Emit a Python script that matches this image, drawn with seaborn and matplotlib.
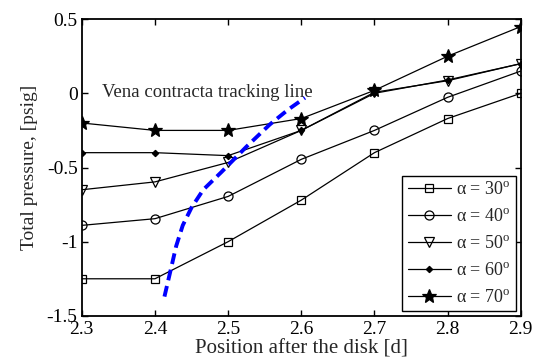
import numpy as np
import pandas as pd
import matplotlib
matplotlib.use('Agg')
import matplotlib.pyplot as plt
import seaborn as sns

###############################################################################
# Data
###############################################################################
POS = [2.3, 2.4, 2.5, 2.6, 2.7, 2.8, 2.9]
ALPHAS = [30, 40, 50, 60, 70]
P30 = [-1.25, -1.25, -1.00, -0.72, -0.40, -0.17, 0.00]
P40 = [-0.89, -0.845, -0.695, -0.445, -0.25, -0.027, 0.15]
P50 = [-0.65, -0.597, -0.466, -0.25, 0.007, 0.085, 0.20]
P60 = [-0.40, -0.40, -0.42, -0.25, 0.00, 0.09, 0.20]
P70 = [-0.20, -0.25, -0.25, -0.17, 0.02, 0.25, 0.45]
VC_X = [2.413, 2.422, 2.429, 2.438, 2.450, 2.466, 2.491, 2.525, 2.557, 2.582, 2.605]
VC_Y = [-1.37, -1.18, -1.03, -0.89, -0.77, -0.65, -0.53, -0.36, -0.21, -0.11, -0.03]
XTICKS = [2.3, 2.4, 2.5, 2.6, 2.7, 2.8, 2.9]
YTICKS = [-1.5, -1, -0.5, 0, 0.5]
YTICKLABELS = ['-1.5', '-1', '-0.5', '0', '0.5']

df = pd.DataFrame({
    'pos': POS * len(ALPHAS),
    'p': P30 + P40 + P50 + P60 + P70,
    'alpha': np.repeat(ALPHAS, len(POS)),
})
vc = pd.DataFrame({'x': VC_X, 'y': VC_Y})

###############################################################################
# Style
###############################################################################
sns.set_style('ticks', {'xtick.direction': 'in', 'ytick.direction': 'in'})
plt.rcParams['font.family'] = ['Liberation Serif', 'DejaVu Serif']
plt.rcParams['mathtext.fontset'] = 'custom'
plt.rcParams['mathtext.rm'] = 'Liberation Serif'
plt.rcParams['mathtext.it'] = 'Liberation Serif:italic'

mStyle = {
    30: dict(marker='s', ms=6, mfc='none'),
    40: dict(marker='o', ms=6.5, mfc='none'),
    50: dict(marker='v', ms=7, mfc='none'),
    60: dict(marker='D', ms=3.2, mfc='k'),
    70: dict(marker='*', ms=10, mfc='k'),
}

###############################################################################
# Plot
###############################################################################
fig, ax = plt.subplots(figsize=(5.38, 3.61), dpi=100)
fig.subplots_adjust(left=0.152, right=0.968, top=0.947, bottom=0.125)

for a in ALPHAS:
    sub = df[df['alpha'] == a]
    sns.lineplot(
        data=sub, x='pos', y='p', ax=ax, color='k', lw=0.9,
        mec='k', mew=0.9, label='α = {}$^{{\\rm o}}$'.format(a),
        **mStyle[a]
    )
sns.lineplot(
    data=vc, x='x', y='y', ax=ax, color='#0000ff', lw=2.8,
    dashes=False, sort=False
)
ax.lines[-1].set_dashes((2.8, 1.5))

ax.text(2.328, -0.027, 'Vena contracta tracking line', fontsize=13.5, va='baseline')

ax.set_xlim(2.3, 2.9)
ax.set_ylim(-1.5, 0.5)
ax.set_xticks(XTICKS)
ax.set_xticklabels([str(x) for x in XTICKS])
ax.set_yticks(YTICKS)
ax.set_yticklabels(YTICKLABELS)
ax.tick_params(axis='both', which='both', direction='in', top=True, right=True,
               length=4, width=1, labelsize=14, colors='k')
ax.tick_params(axis='x', pad=4)
ax.tick_params(axis='y', pad=3)
for s in ax.spines.values():
    s.set_visible(True)
    s.set_linewidth(1.3)
    s.set_color('k')

ax.set_xlabel('Position after the disk [d]', fontsize=15, labelpad=1)
ax.set_ylabel('Total pressure, [psig]', fontsize=14, labelpad=6)

leg = ax.legend(
    loc='lower right', fontsize=13, frameon=True, fancybox=False,
    edgecolor='k', framealpha=1, handlelength=2.4, handletextpad=0.3,
    labelspacing=0.55, borderaxespad=0.25, borderpad=0.3
)
leg.get_frame().set_linewidth(1.0)

plt.savefig('out.png', dpi=100)
plt.close('all')
